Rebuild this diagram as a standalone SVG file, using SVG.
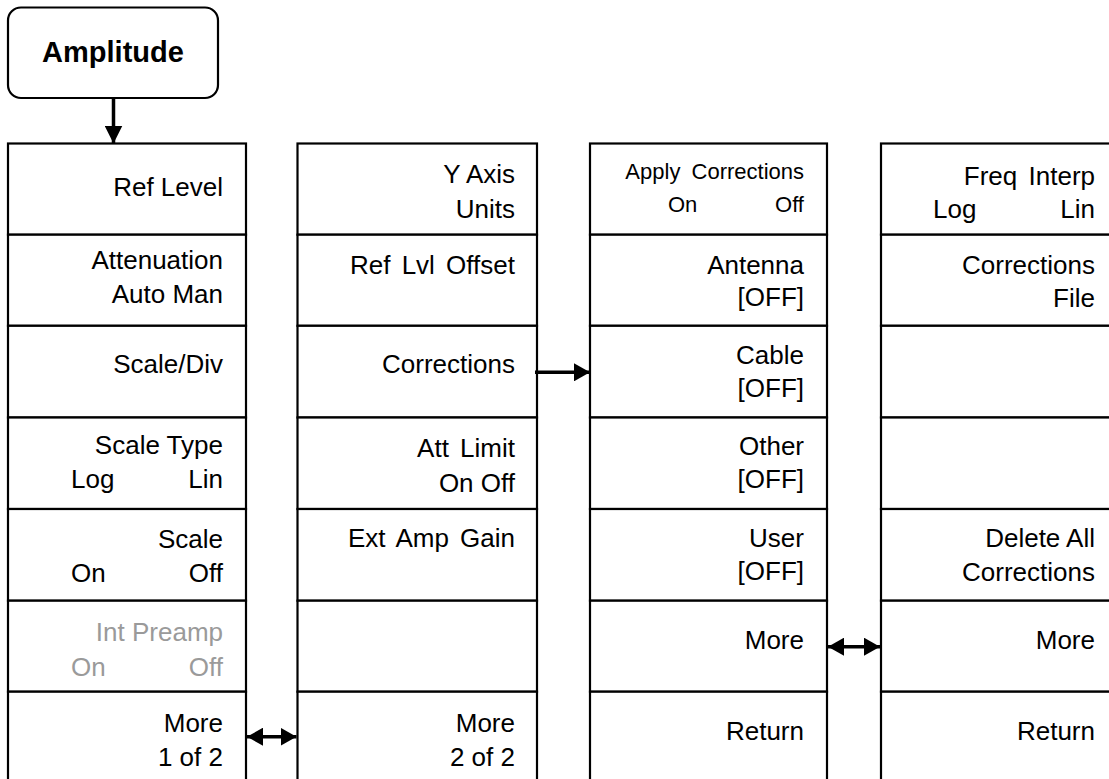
<svg xmlns="http://www.w3.org/2000/svg" width="1109" height="779" viewBox="0 0 1109 779">
<style>
.cell{fill:#fff;stroke:#000;stroke-width:2.2}
.t{font-family:"Liberation Sans",Arial,sans-serif;font-size:26px;fill:#000}
.r{text-anchor:end}
.s{font-size:22px}
.g{fill:#9a9a9a}
.h{font-family:"Liberation Sans",Arial,sans-serif;font-size:29px;font-weight:bold;text-anchor:middle}
.ln{stroke:#000;stroke-width:3.5;fill:none}
</style>
<defs>
<marker id="ah" viewBox="0 0 16 18" refX="16" refY="9" markerWidth="16" markerHeight="18" markerUnits="userSpaceOnUse" orient="auto-start-reverse"><path d="M0,0 L16,9 L0,18 Z" fill="#000"/></marker>
<marker id="ahd" viewBox="0 0 18 18" refX="18" refY="9" markerWidth="18" markerHeight="18" markerUnits="userSpaceOnUse" orient="auto"><path d="M0,0 L18,9 L0,18 Z" fill="#000"/></marker>
</defs>
<rect width="1109" height="779" fill="#fff"/>

<g id="amplitude">
<rect x="8" y="7.5" width="210" height="90.5" rx="13" ry="13" fill="#fff" stroke="#000" stroke-width="2.2"/>
<text class="h" x="113" y="62">Amplitude</text>
</g>

<!-- Column 1 -->
<g id="col1">
<g id="c1-ref-level"><rect class="cell" x="8" y="143.5" width="238" height="91.2"/><text class="t r" x="223" y="196">Ref Level</text></g>
<g id="c1-attenuation"><rect class="cell" x="8" y="234.7" width="238" height="91.1"/><text class="t r" x="223" y="269.3">Attenuation</text><text class="t r" x="223" y="303.3">Auto Man</text></g>
<g id="c1-scale-div"><rect class="cell" x="8" y="325.8" width="238" height="91.7"/><text class="t r" x="223" y="372.7">Scale/Div</text></g>
<g id="c1-scale-type"><rect class="cell" x="8" y="417.5" width="238" height="91.5"/><text class="t r" x="223" y="454">Scale Type</text><text class="t" x="71" y="488">Log</text><text class="t r" x="223" y="488">Lin</text></g>
<g id="c1-scale"><rect class="cell" x="8" y="509" width="238" height="91.7"/><text class="t r" x="223" y="547.7">Scale</text><text class="t" x="71" y="581.7">On</text><text class="t r" x="223" y="581.7">Off</text></g>
<g id="c1-int-preamp"><rect class="cell" x="8" y="600.7" width="238" height="91"/><text class="t r g" x="223" y="641">Int Preamp</text><text class="t g" x="71" y="675.7">On</text><text class="t r g" x="223" y="675.7">Off</text></g>
<g id="c1-more"><rect class="cell" x="8" y="691.7" width="238" height="91.3"/><text class="t r" x="223" y="731.7">More</text><text class="t r" x="223" y="765.7">1 of 2</text></g>
</g>

<!-- Column 2 -->
<g id="col2">
<g id="c2-y-axis"><rect class="cell" x="297.5" y="143.5" width="239.5" height="91.2"/><text class="t r" x="515" y="183.3">Y Axis</text><text class="t r" x="515" y="218.3">Units</text></g>
<g id="c2-ref-lvl-offset"><rect class="cell" x="297.5" y="234.7" width="239.5" height="91.1"/><text class="t r" x="515" y="274.3" word-spacing="4">Ref Lvl Offset</text></g>
<g id="c2-corrections"><rect class="cell" x="297.5" y="325.8" width="239.5" height="91.7"/><text class="t r" x="515" y="373">Corrections</text></g>
<g id="c2-att-limit"><rect class="cell" x="297.5" y="417.5" width="239.5" height="91.5"/><text class="t r" x="515" y="456.7" word-spacing="4">Att Limit</text><text class="t r" x="515" y="491.7">On Off</text></g>
<g id="c2-ext-amp-gain"><rect class="cell" x="297.5" y="509" width="239.5" height="91.7"/><text class="t r" x="515" y="547.3" word-spacing="4">Ext Amp Gain</text></g>
<g id="c2-blank"><rect class="cell" x="297.5" y="600.7" width="239.5" height="91"/></g>
<g id="c2-more"><rect class="cell" x="297.5" y="691.7" width="239.5" height="91.3"/><text class="t r" x="515" y="731.7">More</text><text class="t r" x="515" y="765.7">2 of 2</text></g>
</g>

<!-- Column 3 -->
<g id="col3">
<g id="c3-apply-corrections"><rect class="cell" x="590" y="143.5" width="237" height="91.2"/><text class="t s r" x="804" y="179.3" word-spacing="5">Apply Corrections</text><text class="t s" x="668" y="211.7">On</text><text class="t s r" x="804" y="211.7">Off</text></g>
<g id="c3-antenna"><rect class="cell" x="590" y="234.7" width="237" height="91.1"/><text class="t r" x="804" y="274">Antenna</text><text class="t r" x="804" y="305.5">[OFF]</text></g>
<g id="c3-cable"><rect class="cell" x="590" y="325.8" width="237" height="91.7"/><text class="t r" x="804" y="364">Cable</text><text class="t r" x="804" y="397">[OFF]</text></g>
<g id="c3-other"><rect class="cell" x="590" y="417.5" width="237" height="91.5"/><text class="t r" x="804" y="455">Other</text><text class="t r" x="804" y="488">[OFF]</text></g>
<g id="c3-user"><rect class="cell" x="590" y="509" width="237" height="91.7"/><text class="t r" x="804" y="546.7">User</text><text class="t r" x="804" y="580">[OFF]</text></g>
<g id="c3-more"><rect class="cell" x="590" y="600.7" width="237" height="91"/><text class="t r" x="804" y="649">More</text></g>
<g id="c3-return"><rect class="cell" x="590" y="691.7" width="237" height="91.3"/><text class="t r" x="804" y="740">Return</text></g>
</g>

<!-- Column 4 -->
<g id="col4">
<g id="c4-freq-interp"><rect class="cell" x="881" y="143.5" width="238" height="91.2"/><text class="t r" x="1095" y="185" word-spacing="4">Freq Interp</text><text class="t" x="933" y="218.3">Log</text><text class="t r" x="1095" y="218.3">Lin</text></g>
<g id="c4-corrections-file"><rect class="cell" x="881" y="234.7" width="238" height="91.1"/><text class="t r" x="1095" y="274.3">Corrections</text><text class="t r" x="1095" y="306.7">File</text></g>
<g id="c4-blank1"><rect class="cell" x="881" y="325.8" width="238" height="91.7"/></g>
<g id="c4-blank2"><rect class="cell" x="881" y="417.5" width="238" height="91.5"/></g>
<g id="c4-delete-all"><rect class="cell" x="881" y="509" width="238" height="91.7"/><text class="t r" x="1095" y="546.7">Delete All</text><text class="t r" x="1095" y="580.7">Corrections</text></g>
<g id="c4-more"><rect class="cell" x="881" y="600.7" width="238" height="91"/><text class="t r" x="1095" y="649">More</text></g>
<g id="c4-return"><rect class="cell" x="881" y="691.7" width="238" height="91.3"/><text class="t r" x="1095" y="740">Return</text></g>
</g>

<g id="connectors">
<line class="ln" x1="113.5" y1="98" x2="113.5" y2="143.5" stroke-width="4.5" marker-end="url(#ahd)"/>
<line class="ln" x1="247" y1="736.7" x2="296.5" y2="736.7" marker-start="url(#ah)" marker-end="url(#ah)"/>
<line class="ln" x1="535" y1="372.3" x2="590" y2="372.3" marker-end="url(#ah)"/>
<line class="ln" x1="828" y1="646.7" x2="880" y2="646.7" marker-start="url(#ah)" marker-end="url(#ah)"/>
</g>
</svg>
